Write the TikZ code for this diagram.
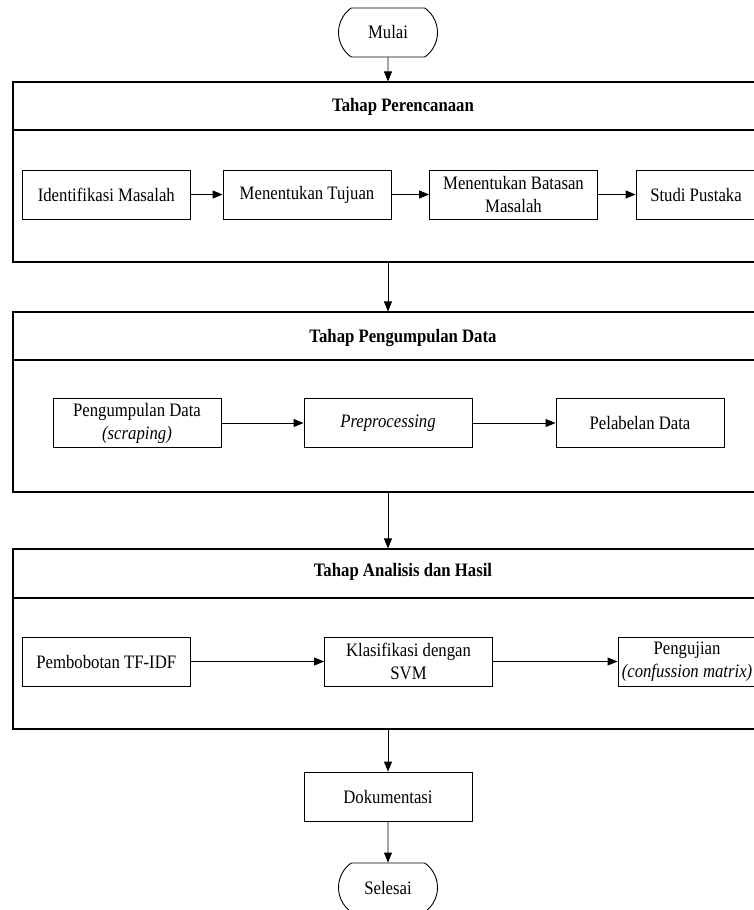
\documentclass[tikz,border=0pt]{standalone}
\usepackage{fontspec}
\setmainfont{Liberation Serif}[FakeStretch=0.88]
\usetikzlibrary{arrows.meta,shapes.misc}
\newcommand{\fs}{\fontsize{19}{23}\selectfont}
\tikzset{
  box/.style={draw, line width=0.9pt, minimum width=168pt, minimum height=49pt, inner sep=0pt, align=center, font=\fs},
  stage/.style={draw, line width=1.1pt, inner sep=0pt, minimum width=780pt, minimum height=180pt},
  sepline/.style={line width=1.1pt},
  title/.style={font=\fs\bfseries, inner sep=0pt},
  term/.style={draw, line width=0.9pt, rounded rectangle, rounded rectangle arc length=110, minimum width=99pt, minimum height=49pt, inner sep=0pt, font=\fs},
  flow/.style={-{Triangle[length=10pt,width=8pt]}, line width=0.9pt},
}
\begin{document}
\begin{tikzpicture}[x=1pt,y=-1pt]
\useasboundingbox (0,0) rectangle (754,910);
\clip (0,0) rectangle (754,910);
% terminals
\node[term] (mulai) at (388,32.5) {Mulai};
% stages
\node[stage] (s1) at (403,172) {};
\node[stage] (s2) at (403,402) {};
\node[stage] (s3) at (403,639) {};
\draw[sepline] (s1.west |- 0,130) -- (s1.east |- 0,130);
\draw[sepline] (s2.west |- 0,360) -- (s2.east |- 0,360);
\draw[sepline] (s3.west |- 0,598) -- (s3.east |- 0,598);
\node[title] (t1) at (403,107) {Tahap Perencanaan};
\node[title] (t2) at (403,338) {Tahap Pengumpulan Data};
\node[title] (t3) at (403,572) {Tahap Analisis dan Hasil};
% row 1
\node[box] (a1) at (106.3,194.5) {Identifikasi Masalah};
\node[box] (a2) at (307,194.5) {Menentukan Tujuan};
\node[box] (a3) at (513.5,194.5) {Menentukan Batasan\\Masalah};
\node[box, minimum width=120pt] (a4) at (696,194.5) {Studi Pustaka};
% row 2
\node[box] (b1) at (137,423) {Pengumpulan Data\\\textit{(scraping)}};
\node[box] (b2) at (388,423) {\textit{Preprocessing}};
\node[box] (b3) at (640,423) {Pelabelan Data};
% row 3
\node[box] (c1) at (106.3,661.5) {Pembobotan TF-IDF};
\node[box] (c2) at (408.5,661.5) {Klasifikasi dengan\\SVM};
\node[box, minimum width=138pt] (c3) at (687,661.5) {Pengujian\\\textit{(confussion matrix)}};
% bottom
\node[box] (dok) at (388,796.5) {Dokumentasi};
\node[term] (selesai) at (388,887.5) {Selesai};
% connectors
\draw[flow] (mulai) -- (mulai |- s1.north);
\draw[flow] (s1.south -| mulai) -- (s2.north -| mulai);
\draw[flow] (s2.south -| mulai) -- (s3.north -| mulai);
\draw[flow] (s3.south -| dok) -- (dok);
\draw[flow] (dok) -- (selesai);
\draw[flow] (a1) -- (a2);
\draw[flow] (a2) -- (a3);
\draw[flow] (a3) -- (a4);
\draw[flow] (b1) -- (b2);
\draw[flow] (b2) -- (b3);
\draw[flow] (c1) -- (c2);
\draw[flow] (c2) -- (c3);
\end{tikzpicture}
\end{document}
